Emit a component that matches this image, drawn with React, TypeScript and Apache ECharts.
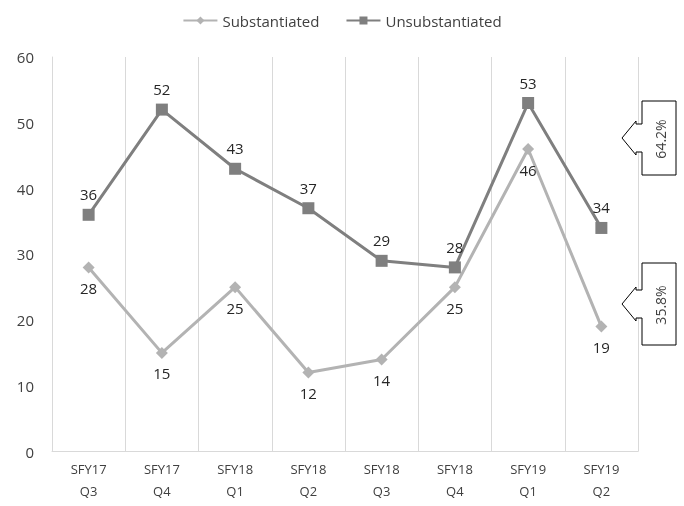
import React, { useEffect, useRef } from "react";
import * as echarts from "echarts";

const categories = ["SFY17\nQ3", "SFY17\nQ4", "SFY18\nQ1", "SFY18\nQ2", "SFY18\nQ3", "SFY18\nQ4", "SFY19\nQ1", "SFY19\nQ2"];
const substantiated = [28, 15, 25, 12, 14, 25, 46, 19];
const unsubstantiated = [36, 52, 43, 37, 29, 28, 53, 34];
const callouts = [
  { text: "64.2%", top: 101, bottom: 175 },
  { text: "35.8%", top: 263, bottom: 345 },
];

const FONT = "'Open Sans', 'Noto Sans', sans-serif";

function calloutGraphics() {
  const out: any[] = [];
  callouts.forEach((c) => {
    const mid = (c.top + c.bottom) / 2;
    const L = 642, R = 676;
    out.push({
      type: "polygon",
      shape: {
        points: [
          [L, c.top], [R, c.top], [R, c.bottom], [L, c.bottom],
          [L, mid + 14], [636, mid + 14], [636, mid + 17], [622, mid],
          [636, mid - 17], [636, mid - 14], [L, mid - 14],
        ],
      },
      style: { fill: "#ffffff", stroke: "#000000", lineWidth: 1 },
      z: 10,
    });
    out.push({
      type: "text",
      x: 660,
      y: mid + 1,
      rotation: Math.PI / 2,
      style: {
        text: c.text,
        fill: "#404040",
        font: `14px ${FONT}`,
        align: "center",
        verticalAlign: "middle",
      },
      z: 11,
    });
  });
  return out;
}

export default function App() {
  const ref = useRef<HTMLDivElement>(null);
  useEffect(() => {
    if (!ref.current) return;
    const chart = echarts.init(ref.current, undefined, { renderer: "svg" });
    chart.setOption({
      animation: false,
      textStyle: { fontFamily: FONT },
      legend: {
        top: 8,
        left: "center",
        itemWidth: 34,
        itemHeight: 10,
        itemGap: 26,
        textStyle: { fontSize: 15, color: "#404040", fontFamily: FONT },
        data: ["Substantiated", "Unsubstantiated"],
      },
      grid: { left: 52, right: 46, top: 57, bottom: 54.5, containLabel: false },
      xAxis: {
        type: "category",
        data: categories,
        boundaryGap: true,
        axisLine: { lineStyle: { color: "#d9d9d9", width: 1 } },
        axisTick: { show: false },
        splitLine: { show: true, lineStyle: { color: "#d9d9d9", width: 1 } },
        axisLabel: { color: "#404040", fontSize: 13, lineHeight: 22, margin: 6, fontFamily: FONT },
      },
      yAxis: {
        type: "value",
        min: 0,
        max: 60,
        interval: 10,
        axisLine: { show: true, lineStyle: { color: "#d9d9d9", width: 1 } },
        axisTick: { show: false },
        splitLine: { show: false },
        axisLabel: { color: "#404040", fontSize: 15, margin: 18, fontFamily: FONT },
      },
      series: [
        {
          name: "Substantiated",
          type: "line",
          data: substantiated,
          symbol: "diamond",
          symbolSize: 12,
          itemStyle: { color: "#b3b3b3" },
          lineStyle: { color: "#b3b3b3", width: 3 },
          label: { show: true, position: "bottom", distance: 7, color: "#262626", fontSize: 15, fontFamily: FONT },
          z: 2,
        },
        {
          name: "Unsubstantiated",
          type: "line",
          data: unsubstantiated,
          symbol: "rect",
          symbolSize: 12,
          itemStyle: { color: "#7f7f7f" },
          lineStyle: { color: "#7f7f7f", width: 3 },
          label: { show: true, position: "top", distance: 7, color: "#262626", fontSize: 15, fontFamily: FONT },
          z: 3,
        },
      ],
      graphic: calloutGraphics(),
    });
    return () => chart.dispose();
  }, []);
  return <div ref={ref} style={{ position: "fixed", left: 0, top: 0, width: 684, height: 506 }} />;
}
